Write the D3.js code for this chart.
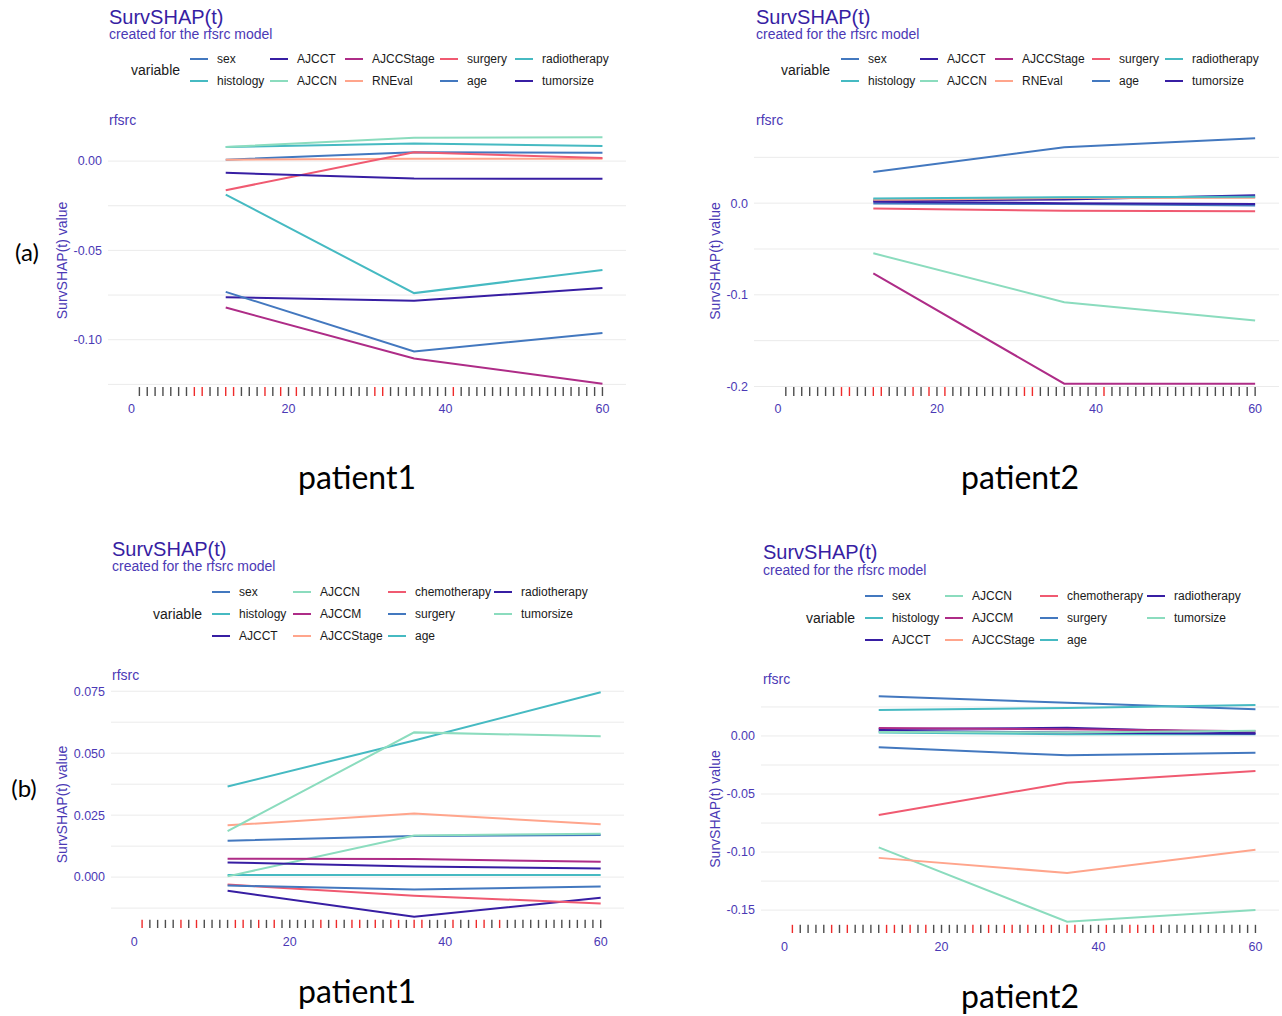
<!DOCTYPE html>
<html lang="en">
<head>
<meta charset="UTF-8">
<title>SurvSHAP(t) - patient explanations</title>
<style>
    body { margin: 0; background: #fff; }
    svg text { font-family: "Liberation Sans", Arial, sans-serif; }
    .title { font-size: 20px; fill: #371ea3; }
    .subtitle { font-size: 14px; fill: #4b39b5; }
    .strip { font-size: 14px; fill: #4b39b5; }
    .tick-label { font-size: 12.5px; fill: #4b39b5; }
    .axis-title { font-size: 14px; fill: #4b39b5; }
    .legend-title { font-size: 14px; fill: #1a1a1a; }
    .legend-text { font-size: 12px; fill: #1a1a1a; }
    .grid { stroke: #ebebeb; stroke-width: 1; }
    .big { font-family: Lato, "Open Sans", sans-serif; font-size: 32px; fill: #000; }
    .tag { font-family: Lato, "Open Sans", sans-serif; font-size: 24px; fill: #000; }
</style>
</head>
<body>
<svg width="1282" height="1016"></svg>
<script src="https://cdn.jsdelivr.net/npm/d3@7"></script>
<script>
// time points (months) where SurvSHAP(t) was evaluated
const timePoints = [12, 36, 60];
const xLimits = [0, 60];
const xTicks = [0, 20, 40, 60];

// y tick labels of each panel
const yTicksA1 = [-0.10, -0.05, 0.00];
const yTicksA2 = [-0.2, -0.1, 0.0];
const yTicksB1 = [0.000, 0.025, 0.050, 0.075];
const yTicksB2 = [-0.15, -0.10, -0.05, 0.00];

// variables, in legend order
const varsA = ["sex", "histology", "AJCCT", "AJCCN", "AJCCStage", "RNEval", "surgery", "age", "radiotherapy", "tumorsize"];
const varsB = ["sex", "histology", "AJCCT", "AJCCN", "AJCCM", "AJCCStage", "chemotherapy", "surgery", "age", "radiotherapy", "tumorsize"];

// DALEX drwhy palette, recycled over the variables
const drwhyColors = ["#4378bf", "#46bac2", "#371ea3", "#8bdcbe", "#ae2c87", "#ffa58c", "#f05a71"];

// (a) patient1
const shapA1 = {
    sex:          [0.0008, 0.0049, 0.0047],
    histology:    [0.0079, 0.0098, 0.0084],
    AJCCT:        [-0.0762, -0.0782, -0.0711],
    AJCCN:        [0.0079, 0.0131, 0.0133],
    AJCCStage:    [-0.0820, -0.1105, -0.1246],
    RNEval:       [0.0008, 0.0013, 0.0013],
    surgery:      [-0.0163, 0.0049, 0.0017],
    age:          [-0.0732, -0.1066, -0.0962],
    radiotherapy: [-0.0188, -0.0739, -0.0610],
    tumorsize:    [-0.0066, -0.0098, -0.0099]
};

// (a) patient2
const shapA2 = {
    sex:          [-0.0005, -0.0010, -0.0025],
    histology:    [0.0040, 0.0060, 0.0065],
    AJCCT:        [0.0025, 0.0040, 0.0085],
    AJCCN:        [-0.0547, -0.1080, -0.1280],
    AJCCStage:    [-0.0766, -0.1970, -0.1970],
    RNEval:       [0.0035, 0.0055, 0.0060],
    surgery:      [-0.0058, -0.0082, -0.0088],
    age:          [0.0339, 0.0610, 0.0708],
    radiotherapy: [0.0050, 0.0065, 0.0070],
    tumorsize:    [0.0015, 0.0000, -0.0010]
};

// (b) patient1
const shapB1 = {
    sex:          [0.0147, 0.0166, 0.0170],
    histology:    [0.0009, 0.0009, 0.0009],
    AJCCT:        [-0.0055, -0.0160, -0.0083],
    AJCCN:        [0.0003, 0.0168, 0.0175],
    AJCCM:        [0.0074, 0.0073, 0.0062],
    AJCCStage:    [0.0209, 0.0257, 0.0213],
    chemotherapy: [-0.0030, -0.0075, -0.0106],
    surgery:      [-0.0034, -0.0050, -0.0038],
    age:          [0.0366, 0.0551, 0.0746],
    radiotherapy: [0.0059, 0.0043, 0.0035],
    tumorsize:    [0.0186, 0.0584, 0.0568]
};

// (b) patient2
const shapB2 = {
    sex:          [0.0342, 0.0287, 0.0230],
    histology:    [0.0030, 0.0015, 0.0015],
    AJCCT:        [0.0060, 0.0070, 0.0025],
    AJCCN:        [-0.0960, -0.1600, -0.1500],
    AJCCM:        [0.0068, 0.0058, 0.0040],
    AJCCStage:    [-0.1050, -0.1180, -0.0980],
    chemotherapy: [-0.0680, -0.0402, -0.0302],
    surgery:      [-0.0098, -0.0167, -0.0144],
    age:          [0.0224, 0.0241, 0.0267],
    radiotherapy: [0.0045, 0.0030, 0.0020],
    tumorsize:    [0.0035, 0.0030, 0.0045]
};

// rug: observed times, the red ones are events
const rugTimes = [1, 2, 3, 4, 5, 6, 7, 8, 9, 10, 11, 12, 13, 14, 15, 16, 17, 18, 19, 20,
    21, 22, 23, 24, 25, 26, 27, 28, 29, 30, 31, 32, 33, 34, 35, 36, 37, 38, 39, 40,
    41, 42, 43, 44, 45, 46, 47, 48, 49, 50, 51, 52, 53, 54, 55, 56, 57, 58, 59, 60];
const eventsA = [8, 9, 12, 13, 17, 19, 21, 31, 32, 41];
const eventsB = [1, 6, 8, 13, 14, 16, 18, 24, 26, 28, 29, 31, 33, 34, 36, 37, 41, 44, 45, 47];

const svg = d3.select("svg");
svg.append("rect").attr("width", 1282).attr("height", 1016).attr("fill", "#fff");

const fmtLocale = d3.formatLocale({ decimal: ".", thousands: ",", grouping: [3], currency: ["", ""], minus: "-" });

// layout of each panel (pixels)
const panels = [
    { vars: varsA, shap: shapA1, events: eventsA, yTicks: yTicksA1, nrow: 2,
      left: 108, right: 626, top: 125, bottom: 396,
      titleX: 109, titleY: 24, subY: 39, rowY: [59, 81], legendX: 131, keyX: [190, 270, 345, 440, 515],
      stripY: 126, axisTitleX: 67, xLabelY: 413 },
    { vars: varsA, shap: shapA2, events: eventsA, yTicks: yTicksA2, nrow: 2,
      left: 754, right: 1279, top: 126, bottom: 396,
      titleX: 756, titleY: 24, subY: 39, rowY: [59, 81], legendX: 781, keyX: [841, 920, 995, 1092, 1165],
      stripY: 126, axisTitleX: 720, xLabelY: 413 },
    { vars: varsB, shap: shapB1, events: eventsB, yTicks: yTicksB1, nrow: 3,
      left: 111, right: 624, top: 681, bottom: 928,
      titleX: 112, titleY: 556, subY: 571, rowY: [592, 614, 636], legendX: 153, keyX: [212, 293, 388, 494],
      stripY: 681, axisTitleX: 67, xLabelY: 946 },
    { vars: varsB, shap: shapB2, events: eventsB, yTicks: yTicksB2, nrow: 3,
      left: 761, right: 1279, top: 685, bottom: 933,
      titleX: 763, titleY: 559, subY: 575, rowY: [596, 618, 640], legendX: 806, keyX: [865, 945, 1040, 1147],
      stripY: 685, axisTitleX: 720, xLabelY: 951 }
];

function expand(ext) {
    const pad = (ext[1] - ext[0]) * 0.05;
    return [ext[0] - pad, ext[1] + pad];
}

// number of decimals needed to show a tick step exactly
function decimalsOf(step) {
    let d = 0;
    while (Math.abs(Math.round(step * 10 ** d) - step * 10 ** d) > 1e-6) d++;
    return d;
}

function drawPanel(p) {
    const g = svg.append("g");
    const colorOf = v => drwhyColors[p.vars.indexOf(v) % drwhyColors.length];

    g.append("text").attr("class", "title").attr("x", p.titleX).attr("y", p.titleY).text("SurvSHAP(t)");
    g.append("text").attr("class", "subtitle").attr("x", p.titleX).attr("y", p.subY).text("created for the rfsrc model");

    // legend, filled column by column
    const midRow = (p.rowY[0] + p.rowY[p.rowY.length - 1]) / 2;
    g.append("text").attr("class", "legend-title")
        .attr("x", p.legendX).attr("y", midRow).attr("dy", "0.35em").text("variable");
    p.vars.forEach((v, i) => {
        const col = Math.floor(i / p.nrow), row = i % p.nrow;
        const kx = p.keyX[col], ky = p.rowY[row];
        g.append("line").attr("x1", kx).attr("x2", kx + 18).attr("y1", ky).attr("y2", ky)
            .attr("stroke", colorOf(v)).attr("stroke-width", 2);
        g.append("text").attr("class", "legend-text")
            .attr("x", kx + 27).attr("y", ky).attr("dy", "0.35em").text(v);
    });

    g.append("text").attr("class", "strip").attr("x", p.titleX).attr("y", p.stripY - 1).text("rfsrc");

    const x = d3.scaleLinear().domain(expand(xLimits)).range([p.left, p.right]);
    const allVals = p.vars.flatMap(v => p.shap[v]);
    const y = d3.scaleLinear().domain(expand(d3.extent(allVals))).range([p.bottom, p.top]);

    const major = p.yTicks;
    const step = major[1] - major[0];
    const [lo, hi] = y.domain();
    const minor = d3.range(major[0] - step / 2, hi, step).filter(d => d >= lo && d <= hi);

    g.selectAll(".gminor").data(minor).enter().append("line").attr("class", "grid")
        .attr("x1", p.left).attr("x2", p.right)
        .attr("y1", d => y(d)).attr("y2", d => y(d));
    g.selectAll(".gmajor").data(major).enter().append("line").attr("class", "grid")
        .attr("x1", p.left).attr("x2", p.right)
        .attr("y1", d => y(d)).attr("y2", d => y(d));

    const fmt = fmtLocale.format("." + decimalsOf(step) + "f");
    g.selectAll(".ylab").data(major).enter().append("text").attr("class", "tick-label")
        .attr("x", p.left - 6).attr("y", d => y(d)).attr("dy", "0.35em")
        .attr("text-anchor", "end").text(d => fmt(d));
    g.selectAll(".xlab").data(xTicks).enter().append("text").attr("class", "tick-label")
        .attr("x", d => x(d)).attr("y", p.xLabelY).attr("text-anchor", "middle").text(d => d);

    g.append("text").attr("class", "axis-title")
        .attr("transform", `translate(${p.axisTitleX},${(p.top + p.bottom) / 2}) rotate(-90)`)
        .attr("text-anchor", "middle").text("SurvSHAP(t) value");

    // rug of observed times
    const rugLen = (p.bottom - p.top) * 0.033;
    g.selectAll(".rug").data(rugTimes).enter().append("line")
        .attr("x1", d => x(d)).attr("x2", d => x(d))
        .attr("y1", p.bottom - rugLen).attr("y2", p.bottom)
        .attr("stroke", d => p.events.includes(d) ? "#ee2b2b" : "#4d4d4d")
        .attr("stroke-width", 1.4);

    const line = d3.line().x((d, i) => x(timePoints[i])).y(d => y(d));
    p.vars.forEach(v => {
        g.append("path").attr("d", line(p.shap[v]))
            .attr("fill", "none").attr("stroke", colorOf(v)).attr("stroke-width", 2);
    });
}

panels.forEach(drawPanel);

// figure labels
const labels = [
    { text: "patient1", x: 357, y: 489, cls: "big" },
    { text: "patient2", x: 1020, y: 489, cls: "big" },
    { text: "patient1", x: 357, y: 1003, cls: "big" },
    { text: "patient2", x: 1020, y: 1008, cls: "big" },
    { text: "(a)", x: 27, y: 261, cls: "tag" },
    { text: "(b)", x: 24, y: 797, cls: "tag" }
];
svg.selectAll(".figlab").data(labels).enter().append("text")
    .attr("class", d => d.cls).attr("x", d => d.x).attr("y", d => d.y)
    .attr("text-anchor", "middle").text(d => d.text);
</script>
</body>
</html>
